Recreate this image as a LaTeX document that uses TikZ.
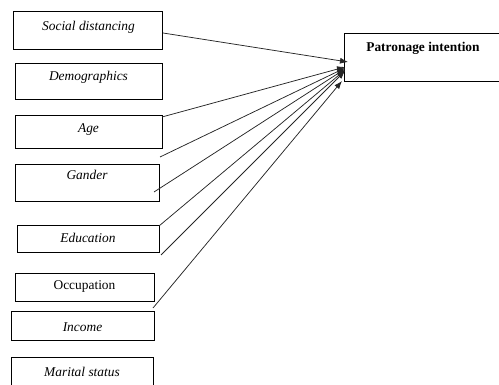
\documentclass[tikz,border=0pt]{standalone}
\usepackage{fontspec}
\setmainfont{Liberation Serif}
\usetikzlibrary{arrows.meta}
\begin{document}
\begin{tikzpicture}[x=1pt,y=-1pt,
 box/.style={draw=black, line width=0.8pt, rectangle, inner sep=0pt, outer sep=0pt},
 lbl/.style={font=\fontsize{13.4}{15}\selectfont\itshape, inner sep=0pt},
 link/.style={draw=black!85, line width=0.75pt, -{Latex[length=8pt,width=6pt]}}]
\useasboundingbox (0,0) rectangle (499,385);
\clip (0,0) rectangle (499,385);
% boxes
\node[box, minimum width=149pt, minimum height=38pt] (social) at (87.5,30) {};
\node[box, minimum width=147pt, minimum height=36pt] (demo) at (88.5,81) {};
\node[box, minimum width=147pt, minimum height=33pt] (age) at (88.5,131.5) {};
\node[box, minimum width=144pt, minimum height=37pt] (gander) at (87,182.5) {};
\node[box, minimum width=142pt, minimum height=27pt] (edu) at (88,238.5) {};
\node[box, minimum width=139pt, minimum height=28pt] (occ) at (84.5,287) {};
\node[box, minimum width=143pt, minimum height=29pt] (income) at (82.5,325.5) {};
\node[box, minimum width=142pt, minimum height=43pt] (marital) at (82,378.5) {};
\node[box, minimum width=176pt, minimum height=48pt] (patron) at (432,57) {};
% texts
\node[lbl] (socialtxt) at (88.5,27) {Social distancing};
\node[lbl] (demotxt) at (88.5,77) {Demographics};
\node[lbl] (agetxt) at (88.5,130) {Age};
\node[lbl] (gandertxt) at (87,175) {Gander};
\node[lbl] (edutxt) at (88,238) {Education};
\node[lbl, font=\fontsize{13.4}{15}\selectfont] (occtxt) at (84.5,286) {Occupation};
\node[lbl] (incometxt) at (82.5,327) {Income};
\node[lbl] (maritaltxt) at (82,372) {Marital status};
\node[lbl, font=\fontsize{13.4}{15}\selectfont\bfseries] (patrontxt) at (423,48) {Patronage intention};
% connector ends
\coordinate (s1) at (163,33);
\coordinate (s2) at (162,117);
\coordinate (s3) at (160,157);
\coordinate (s4) at (154,192);
\coordinate (s5) at (159,226);
\coordinate (s6) at (161,255);
\coordinate (s7) at (153,308);
\coordinate (t1) at (348,62);
\coordinate (t2) at (345,67);
\coordinate (t3) at (345,68);
\coordinate (t4) at (345,69);
\coordinate (t5) at (345,70);
\coordinate (t6) at (345,71);
\coordinate (t7) at (342,81);
\draw[link] (s1) -- (t1);
\draw[link] (s2) -- (t2);
\draw[link] (s3) -- (t3);
\draw[link] (s4) -- (t4);
\draw[link] (s5) -- (t5);
\draw[link] (s6) -- (t6);
\draw[link] (s7) -- (t7);
\end{tikzpicture}
\end{document}
